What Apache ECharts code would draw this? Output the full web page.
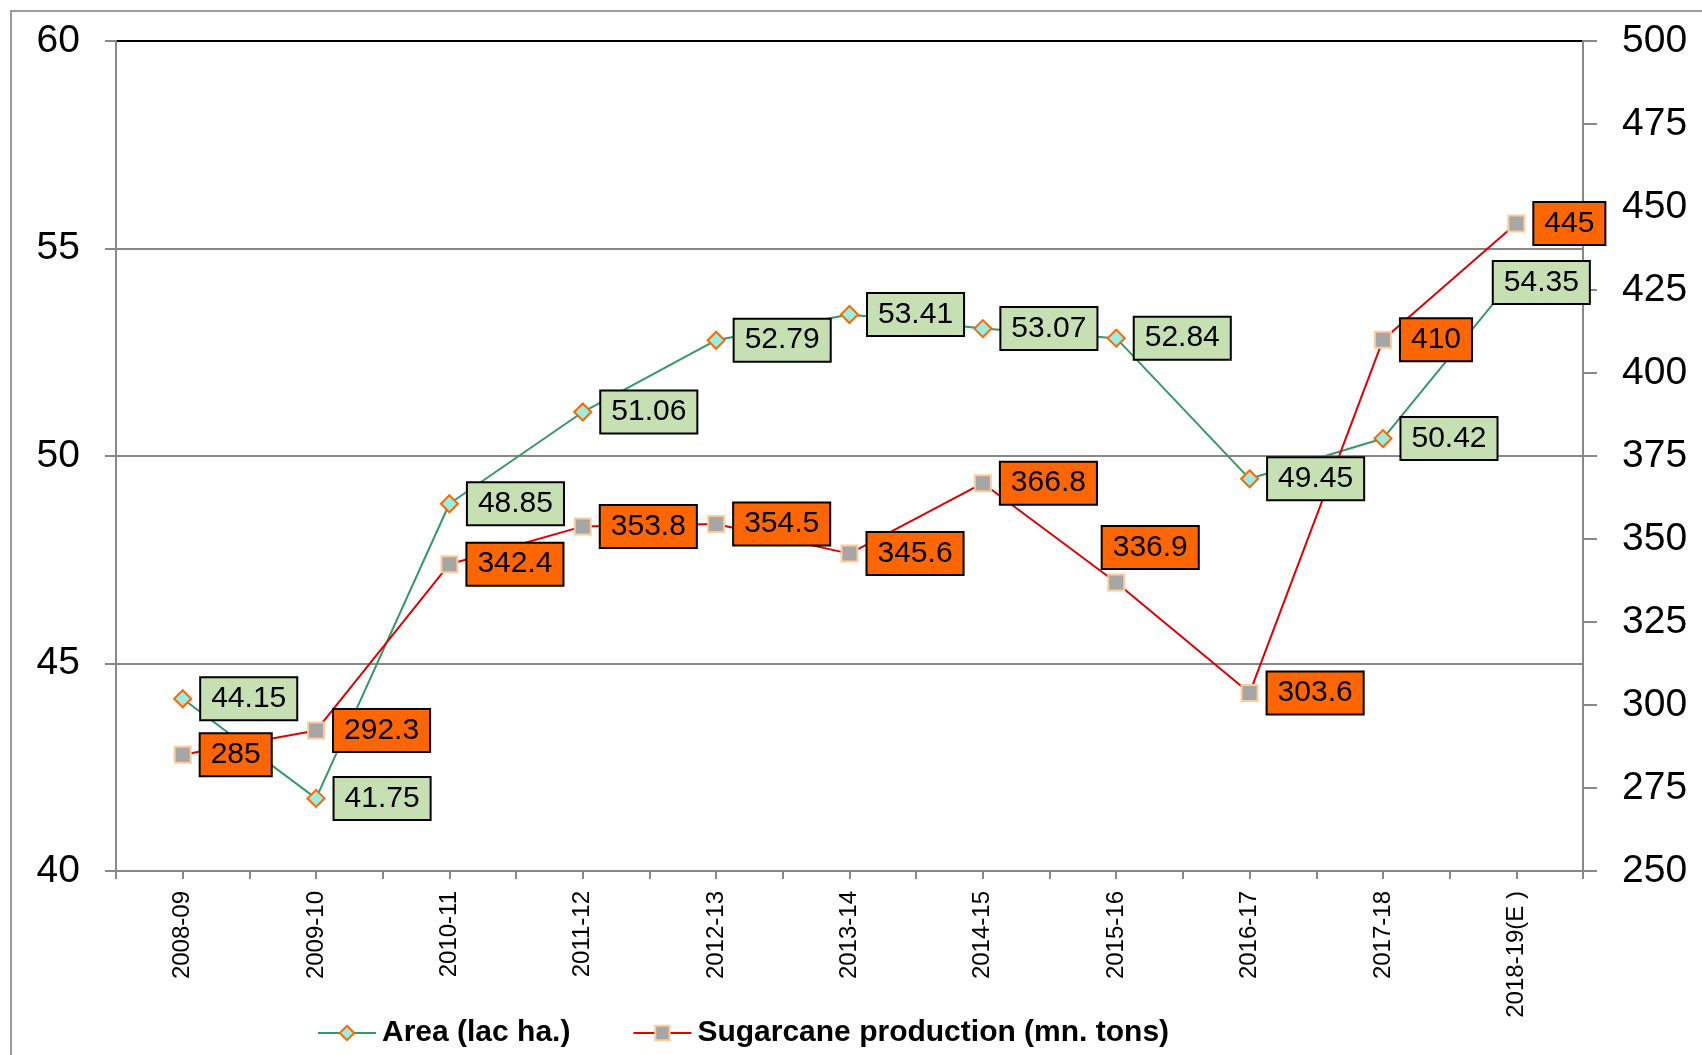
<!DOCTYPE html>
<html><head><meta charset="utf-8">
<script src="https://cdn.jsdelivr.net/npm/echarts@6/dist/echarts.min.js"></script>
<style>
html,body{margin:0;padding:0;background:#fff;}
#chart{position:absolute;left:0;top:0;width:1702px;height:1055px;}
#frame{position:absolute;left:10px;top:10px;width:1700px;height:1050px;border-left:2px solid #9a9a9a;border-top:2px solid #9a9a9a;pointer-events:none;}
</style></head><body>
<div id="chart"></div><div id="frame"></div>
<script>
const categories = ['2008-09','2009-10','2010-11','2011-12','2012-13','2013-14','2014-15','2015-16','2016-17','2017-18','2018-19(E )'];
const areaValues = [44.15, 41.75, 48.85, 51.06, 52.79, 53.41, 53.07, 52.84, 49.45, 50.42, 54.35];
const productionValues = [285, 292.3, 342.4, 353.8, 354.5, 345.6, 366.8, 336.9, 303.6, 410, 445];
const areaName = 'Area (lac ha.)';
const productionName = 'Sugarcane production (mn. tons)';
const leftAxisRange = [40, 60, 5];
const rightAxisRange = [250, 500, 25];

const FONT = 'Liberation Sans, Arial, sans-serif';
const GRAY = '#888888';

function boxLabel(bg) {
  return {
    show: true, position: 'right', distance: 9,
    color: '#000', fontSize: 30, fontFamily: FONT, lineHeight: 32,
    backgroundColor: bg, borderColor: '#000', borderWidth: 2,
    padding: [5, 10, 4, 10]
  };
}
// special label placements (style only)
const areaLabelOverride = { 10: { position: 'inside', offset: [25, 7] } };
const prodLabelOverride = { 7: { position: 'inside', offset: [34, -35] } };

function buildData(values, overrides) {
  return values.map((v, i) => overrides[i] ? { value: v, label: overrides[i] } : v);
}

const chart = echarts.init(document.getElementById('chart'), null, { renderer: 'canvas' });
chart.setOption({
  animation: false,
  backgroundColor: 'transparent',
  grid: { left: 116, right: 119, top: 41, bottom: 184, show: true, borderColor: '#000', borderWidth: 2, backgroundColor: 'transparent' },
  legend: {
    left: 312, top: 1013, itemWidth: 58, itemHeight: 18, itemGap: 62,
    textStyle: { fontFamily: FONT, fontWeight: 'bold', fontSize: 30, color: '#000', padding: [0, 0, 0, 1] },
    data: [areaName, productionName]
  },
  xAxis: [{
    type: 'category', data: categories, boundaryGap: true,
    axisLine: { show: true, lineStyle: { color: GRAY, width: 2 } },
    axisTick: { show: false },
    axisLabel: { rotate: 90, margin: 20, fontSize: 24, fontFamily: FONT, color: '#000', interval: 0 }
  }, {
    type: 'category', data: categories.flatMap(c => [c + 'a', c + 'b']), boundaryGap: true,
    position: 'bottom',
    axisLine: { show: false },
    axisTick: { show: true, length: 8, lineStyle: { color: GRAY, width: 2 }, interval: 0 },
    axisLabel: { show: false }
  }],
  yAxis: [{
    type: 'value', min: leftAxisRange[0], max: leftAxisRange[1], interval: leftAxisRange[2],
    axisLine: { show: true, lineStyle: { color: GRAY, width: 2 } },
    axisTick: { show: true, length: 11, lineStyle: { color: GRAY, width: 2 } },
    axisLabel: { margin: 36, fontSize: 39, fontFamily: FONT, color: '#000' },
    splitLine: { show: true, showMaxLine: false, lineStyle: { color: GRAY, width: 2 } }
  }, {
    type: 'value', min: rightAxisRange[0], max: rightAxisRange[1], interval: rightAxisRange[2],
    position: 'right',
    axisLine: { show: true, lineStyle: { color: GRAY, width: 2 } },
    axisTick: { show: true, length: 14, lineStyle: { color: GRAY, width: 2 } },
    axisLabel: { margin: 39, fontSize: 39, fontFamily: FONT, color: '#000' },
    splitLine: { show: false }
  }],
  series: [{
    name: areaName, type: 'line', xAxisIndex: 0, yAxisIndex: 0,
    data: buildData(areaValues, areaLabelOverride),
    symbol: 'diamond', symbolSize: 17, showAllSymbol: true,
    lineStyle: { color: '#339966', width: 2 },
    itemStyle: { color: '#99EEE0', borderColor: '#FF6600', borderWidth: 2 },
    label: boxLabel('#C6E0B4'),
    z: 3
  }, {
    name: productionName, type: 'line', xAxisIndex: 0, yAxisIndex: 1,
    data: buildData(productionValues, prodLabelOverride),
    symbol: 'rect', symbolSize: 16, showAllSymbol: true,
    lineStyle: { color: '#E00000', width: 2 },
    itemStyle: { color: '#A6A6A6', borderColor: '#FFCC99', borderWidth: 2 },
    label: boxLabel('#FF6600'),
    z: 3
  }]
});
</script>
</body></html>
